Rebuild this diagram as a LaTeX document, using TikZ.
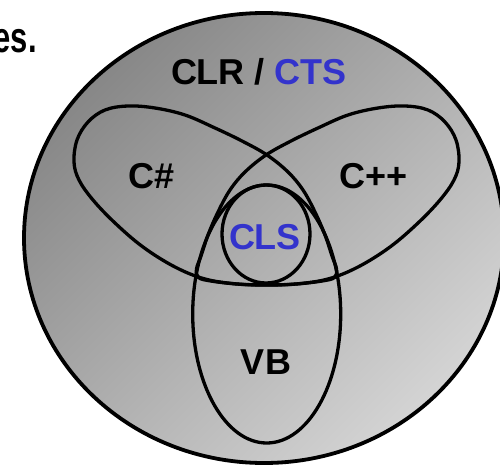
\documentclass[tikz,border=0pt]{standalone}
\usepackage{fontspec}
\usepackage{graphicx}
\setmainfont{Liberation Sans}
\definecolor{ctsblue}{RGB}{51,51,204}
\definecolor{shadedark}{RGB}{135,135,135}
\definecolor{shadelight}{RGB}{212,212,212}
\tikzset{
  venn/.style={draw=black, line width=3.3pt},
  lbl/.style={font=\bfseries\fontsize{36}{40}\selectfont, inner sep=0pt, anchor=base},
}
\begin{document}
\begin{tikzpicture}[x=1pt,y=-1pt]
\useasboundingbox (0,0) rectangle (500,465);
% outer CLR / CTS ellipse
\shade[top color=shadedark, bottom color=shadelight, shading angle=45]
  (264,238) ellipse [x radius=240pt, y radius=225pt];
\draw[venn, line width=3.8pt] (264,238) ellipse [x radius=240pt, y radius=225pt];
% C# shape
\draw[venn] plot[smooth cycle, tension=0.6] coordinates {
  (74,162) (77,140) (88,122) (105,110) (128,106) (155,108) (185,115)
  (215,128) (242,141) (267,155) (288,172) (303,190) (315,212) (325,235)
  (332,256) (336.5,269) (334.5,277.5) (322,281) (296,284) (266,285)
  (237,284) (205,279) (175,267) (143,247) (115,223) (93,200) (79,180)};
% C++ shape (mirror image)
\begin{scope}[shift={(533,0)}, xscale=-1]
\draw[venn] plot[smooth cycle, tension=0.6] coordinates {
  (74,162) (77,140) (88,122) (105,110) (128,106) (155,108) (185,115)
  (215,128) (242,141) (267,155) (288,172) (303,190) (315,212) (325,235)
  (332,256) (336.5,269) (334.5,277.5) (322,281) (296,284) (266,285)
  (237,284) (205,279) (175,267) (143,247) (115,223) (93,200) (79,180)};
\end{scope}
% VB ellipse
\draw[venn] (266.7,314) ellipse [x radius=74pt, y radius=129pt];
% CLS circle
\draw[venn] (266,234) ellipse [x radius=44pt, y radius=49pt];
% labels
\node[lbl, font=\bfseries\fontsize{43}{46}\selectfont, anchor=base east] (es) at (37,53) {\scalebox{0.72}[1]{es.}};
\node[lbl] (clr) at (259,85) {CLR / \textcolor{ctsblue}{CTS}};
\node[lbl] (cs) at (152,188) {C\#};
\node[lbl] (cpp) at (374,188) {C++};
\node[lbl, text=ctsblue] (cls) at (265,249) {CLS};
\node[lbl] (vb) at (266,374) {VB};
\end{tikzpicture}
\end{document}
